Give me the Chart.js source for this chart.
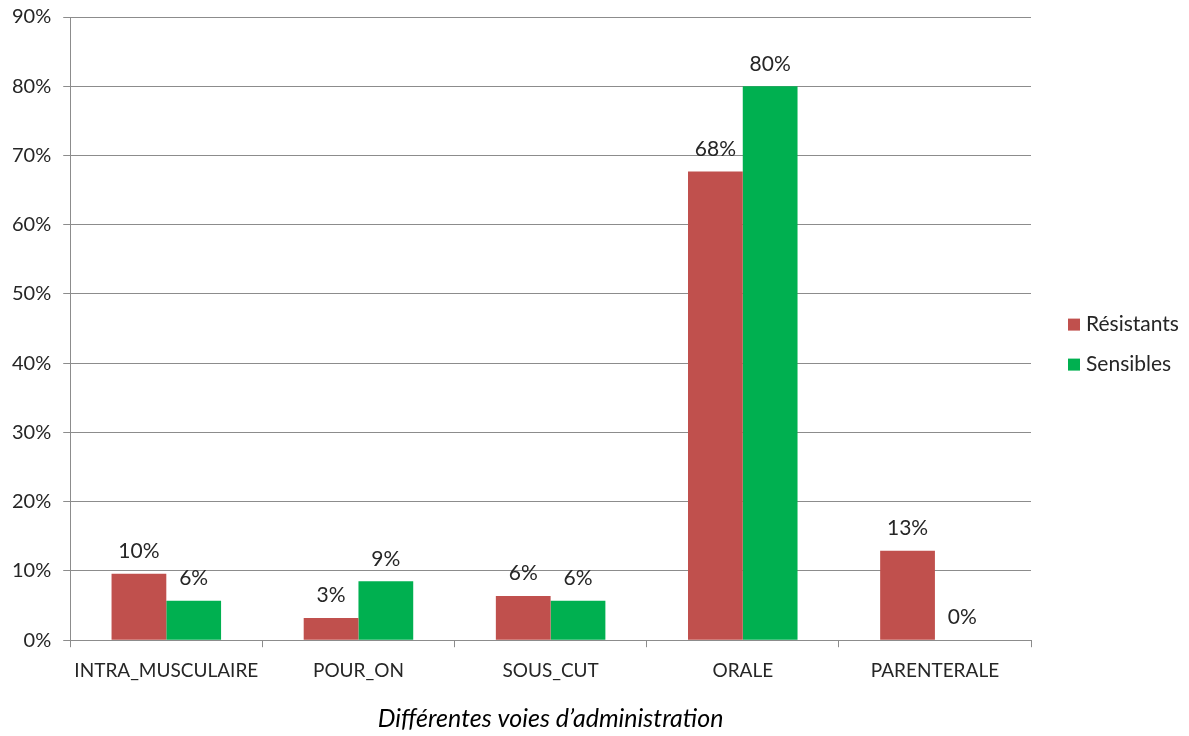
<!DOCTYPE html>
<html lang="fr">
<head>
<meta charset="utf-8">
<title>Voies d'administration</title>
<script src="https://cdn.jsdelivr.net/npm/chart.js@4/dist/chart.umd.min.js"></script>
<style>
  html, body { margin: 0; padding: 0; background: #fff; }
  #wrap { width: 1189px; height: 736px; }
</style>
</head>
<body>
<div id="wrap"><canvas id="voiesChart" width="1189" height="736"></canvas></div>
<script>
  /* ── Data ── */
  const voies = ['INTRA_MUSCULAIRE', 'POUR_ON', 'SOUS_CUT', 'ORALE', 'PARENTERALE'];
  const resistants = [9.6, 3.2, 6.4, 67.7, 12.9];
  const sensibles  = [5.7, 8.5, 5.7, 80.0, 0];
  const yTicks = [0, 10, 20, 30, 40, 50, 60, 70, 80, 90];

  const FONT = 'Lato, "Open Sans", sans-serif';
  const TEXT = '#262626';
  const GRID = '#8c8c8c';

  /* ── Value labels above each bar ── */
  const barLabels = {
    id: 'barLabels',
    afterDatasetsDraw(chart) {
      const ctx = chart.ctx;
      ctx.save();
      ctx.font = '21px ' + FONT;
      ctx.fillStyle = TEXT;
      ctx.textAlign = 'center';
      ctx.textBaseline = 'bottom';
      chart.data.datasets.forEach((ds, i) => {
        chart.getDatasetMeta(i).data.forEach((bar, j) => {
          ctx.fillText(Math.round(ds.data[j]) + '%', bar.x, bar.y - 12);
        });
      });
      ctx.restore();
    }
  };

  /* ── Legend at the right, centred a little below the plot middle ── */
  const sideLegend = {
    id: 'sideLegend',
    afterDraw(chart) {
      const ctx = chart.ctx;
      const x = chart.chartArea.right + 37;
      const mid = (chart.chartArea.top + chart.chartArea.bottom) / 2 + 16;
      const gap = 40;
      const sets = chart.data.datasets;
      ctx.save();
      ctx.font = '21px ' + FONT;
      ctx.textBaseline = 'middle';
      sets.forEach((ds, i) => {
        const y = mid + (i - (sets.length - 1) / 2) * gap;
        ctx.fillStyle = ds.backgroundColor;
        ctx.fillRect(x, y - 6, 12, 12);
        ctx.fillStyle = TEXT;
        ctx.fillText(ds.label, x + 18, y);
      });
      ctx.restore();
    }
  };

  new Chart(document.getElementById('voiesChart'), {
    type: 'bar',
    data: {
      labels: voies,
      datasets: [
        { label: 'Résistants', data: resistants, backgroundColor: '#C0504D' },
        { label: 'Sensibles',  data: sensibles,  backgroundColor: '#00B050' },
      ],
    },
    options: {
      responsive: false,
      animation: false,
      datasets: { bar: { categoryPercentage: 0.57, barPercentage: 1.0 } },
      layout: { padding: { top: 0, right: 158, left: 0, bottom: 2 } },
      plugins: {
        tooltip: { enabled: false },
        legend: { display: false },
      },
      scales: {
        x: {
          grid: { offset: true, drawOnChartArea: false, color: GRID, tickLength: 7 },
          border: { color: GRID },
          ticks: {
            color: TEXT, font: { family: FONT, size: 19 }, padding: 12,
            maxRotation: 0, autoSkip: false,
          },
          title: {
            display: true,
            text: 'Différentes voies d’administration',
            color: '#000',
            font: { family: FONT, size: 25, style: 'italic' },
            padding: { top: 10, bottom: 0 },
          },
        },
        y: {
          min: 0, max: 90,
          afterBuildTicks(scale) { scale.ticks = yTicks.map(v => ({ value: v })); },
          // keep the 90% line close to the top edge
          afterFit(scale) { scale.paddingTop = 17; },
          grid: { color: GRID, tickLength: 7 },
          border: { color: GRID },
          ticks: {
            color: TEXT, font: { family: FONT, size: 20 }, padding: 12,
            callback: v => v + '%',
          },
        },
      },
    },
    plugins: [barLabels, sideLegend],
  });
</script>
</body>
</html>
